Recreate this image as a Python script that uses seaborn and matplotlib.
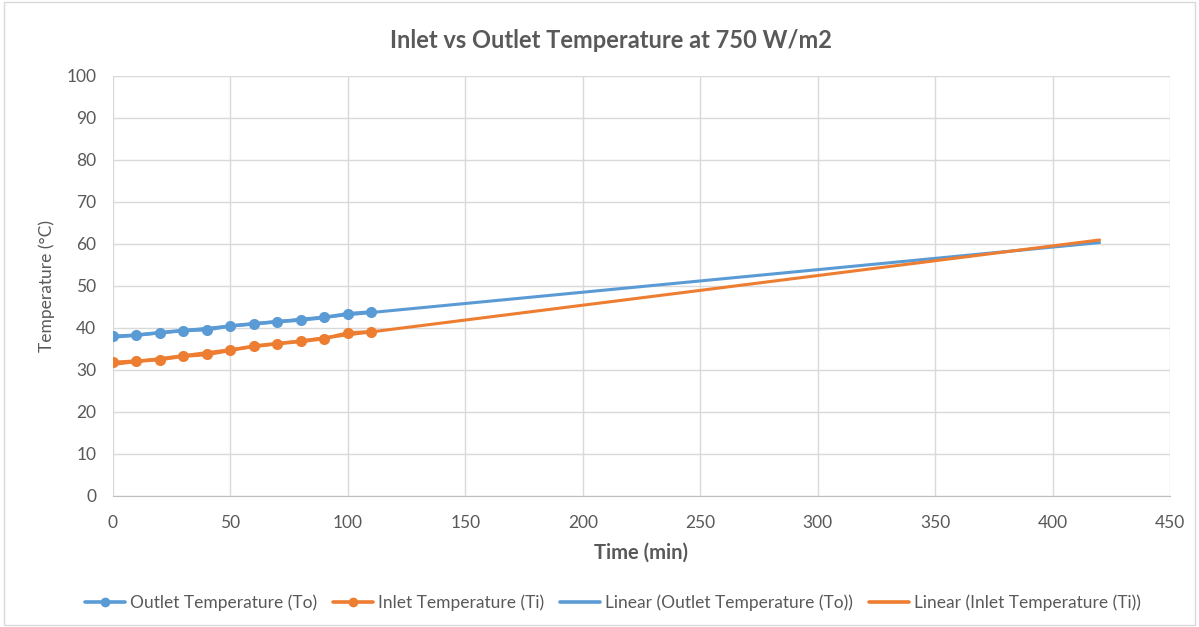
import numpy as np
import pandas as pd
import matplotlib
matplotlib.use("Agg")
import matplotlib.pyplot as plt
import seaborn as sb
from matplotlib.lines import Line2D

# data
time_min = [0, 10, 20, 30, 40, 50, 60, 70, 80, 90, 100, 110]
outlet_temp = [38.0, 38.3, 38.9, 39.4, 39.6, 40.5, 41.0, 41.5, 41.9, 42.5, 43.4, 43.8]
inlet_temp = [31.8, 32.1, 32.5, 33.3, 33.7, 34.7, 35.7, 36.3, 36.8, 37.5, 38.8, 39.1]
trend_end = 420

blue = '#5b9bd5'
orange = '#ed7d31'
grey = '#595959'

sb.set_style('white')
plt.rcParams['font.family'] = ['Lato', 'DejaVu Sans']

df = pd.DataFrame({'Time': time_min, 'Outlet': outlet_temp, 'Inlet': inlet_temp})

# linear trendlines (forecast forward)
tx = np.array([0, trend_end])
po = np.polyfit(time_min, outlet_temp, 1)
pi = np.polyfit(time_min, inlet_temp, 1)
trend = pd.DataFrame({'Time': tx, 'To': np.polyval(po, tx), 'Ti': np.polyval(pi, tx)})

fig = plt.figure(figsize=(11.99, 6.27), dpi=100)
ax = fig.add_axes([113/1199, 1-496/627, (1170-113)/1199, (496-76)/627])

sb.lineplot(x='Time', y='To', data=trend, color=blue, linewidth=2.2, ax=ax, label='_t1', zorder=2)
sb.lineplot(x='Time', y='Ti', data=trend, color=orange, linewidth=2.2, ax=ax, label='_t2', zorder=2)
sb.lineplot(x='Time', y='Outlet', data=df, color=blue, linewidth=2.6, marker='o', markersize=8,
            markeredgewidth=0, ax=ax, label='_o', zorder=3)
sb.lineplot(x='Time', y='Inlet', data=df, color=orange, linewidth=2.6, marker='o', markersize=8,
            markeredgewidth=0, ax=ax, label='_i', zorder=3)

ax.set_xlim(0, 450)
ax.set_ylim(0, 100)
ax.set_xticks(range(0, 451, 50))
ax.set_yticks(range(0, 101, 10))
ax.grid(True, color='#d9d9d9', linewidth=1)
ax.set_axisbelow(True)
for s in ['top', 'right', 'left']:
    ax.spines[s].set_visible(False)
ax.spines['bottom'].set_color('#bfbfbf')
ax.tick_params(axis='x', length=0, labelsize=12.5, colors=grey, pad=14)
ax.tick_params(axis='y', length=0, labelsize=12.5, colors=grey, pad=12)
ax.set_xlabel('Time (min)', fontsize=14.5, fontweight='bold', color=grey, labelpad=8)
ax.set_ylabel('Temperature (°C)', fontsize=12.5, color=grey, labelpad=8)
fig.text(611/1199, 1-40/627, 'Inlet vs Outlet Temperature at 750 W/m2', ha='center', va='center',
         fontsize=17, fontweight='bold', color=grey)

handles = [
    Line2D([], [], color=blue, lw=2.6, marker='o', markersize=7, markeredgewidth=0),
    Line2D([], [], color=orange, lw=2.6, marker='o', markersize=7, markeredgewidth=0),
    Line2D([], [], color=blue, lw=2.6),
    Line2D([], [], color=orange, lw=2.6),
]
labels = ['Outlet Temperature (To)', 'Inlet Temperature (Ti)',
          'Linear (Outlet Temperature (To))', 'Linear (Inlet Temperature (Ti))']
leg = fig.legend(handles, labels, loc='center', bbox_to_anchor=(613/1199, 1-603/627), ncol=4,
                 frameon=False, fontsize=12.5, handlelength=2.3, handletextpad=0.3, columnspacing=0.9)
for t in leg.get_texts():
    t.set_color(grey)

# chart border
fig.patches.append(plt.Rectangle((0.003, 0.003), 0.994, 0.994, transform=fig.transFigure,
                                 fill=False, edgecolor='#d9d9d9', linewidth=1))

fig.savefig('out.png', dpi=100)
